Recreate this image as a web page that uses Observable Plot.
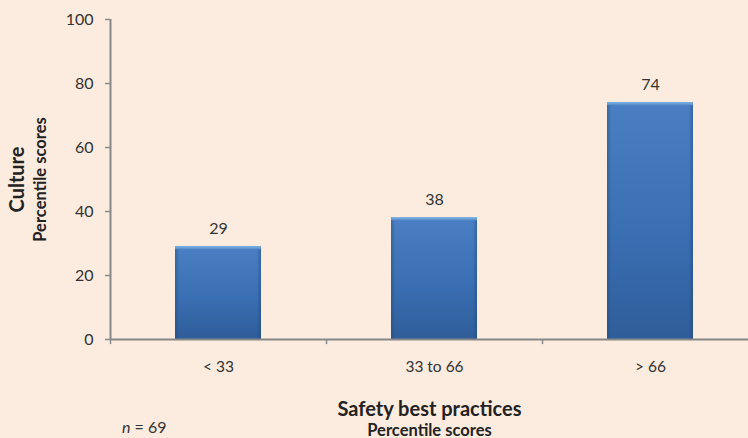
<!DOCTYPE html>
<html>
<head>
<meta charset="utf-8">
<script src="https://cdn.jsdelivr.net/npm/d3@7"></script>
<script src="https://cdn.jsdelivr.net/npm/@observablehq/plot@0.6"></script>
<style>
  html, body { margin: 0; padding: 0; background: #fcebdf; }
  #chart { position: relative; width: 748px; height: 438px; }
  svg { font-family: Lato, "Open Sans", sans-serif; }
</style>
</head>
<body>
<div id="chart"></div>
<script>
const categories = ["< 33", "33 to 66", "> 66"];
const values = [29, 38, 74];
const yTicks = [0, 20, 40, 60, 80, 100];
const yTitle = "Culture";
const ySubtitle = "Percentile scores";
const xTitle = "Safety best practices";
const xSubtitle = "Percentile scores";
const sampleLabel = "69";

const data = categories.map((c, i) => ({cat: c, value: values[i]}));

const W = 748, H = 438;
const mL = 110, mT = 19, mB = 99, mR = 0;
const xRange = [110, 758];
const step = (xRange[1] - xRange[0]) / categories.length;
const axisColor = "#888888";
const textColor = "#333333";

const plot = Plot.plot({
  width: W, height: H,
  marginLeft: mL, marginTop: mT, marginBottom: mB, marginRight: mR,
  style: {background: "#fcebdf", color: textColor, fontSize: "16px", fontFamily: "Lato, 'Open Sans', sans-serif", overflow: "visible"},
  x: {domain: categories, range: xRange, paddingInner: 0.6, paddingOuter: 0.3, align: 0.5},
  y: {domain: [0, 100], ticks: yTicks},
  marks: [
    Plot.barY(data, {x: "cat", y: "value", fill: "url(#barGrad)"}),
    Plot.barY(data, {x: "cat", y: "value", fill: "url(#barSide)"}),
    Plot.barY(data, {x: "cat", y1: "value", y2: "value", insetBottom: -3, fill: "url(#barTop)"}),
    Plot.text(data, {x: "cat", y: "value", text: d => String(d.value), dy: -18, fontSize: 16, fill: textColor}),
    Plot.ruleY([0], {stroke: axisColor, strokeWidth: 2}),
    Plot.ruleX([categories[0]], {x: d => d, y1: 0, y2: 100, dx: -step / 2, stroke: axisColor, strokeWidth: 2}),
    Plot.ruleX(categories, {x: d => d, y1: -1.6, y2: 0, dx: -step / 2, stroke: axisColor, strokeWidth: 1.5}),
    Plot.axisY({ticks: yTicks, tickSize: 5, tickPadding: 12, stroke: axisColor, strokeWidth: 1.5, fontSize: 16, label: null, fill: textColor}),
    Plot.axisX({tickSize: 0, tickPadding: 21, fontSize: 15.5, label: null, fill: textColor}),
    Plot.text([yTitle], {frameAnchor: "left", textAnchor: "middle", lineAnchor: "middle", rotate: -90, dx: -93, fontWeight: "bold", fontSize: 20, fill: "#222"}),
    Plot.text([ySubtitle], {frameAnchor: "left", textAnchor: "middle", lineAnchor: "middle", rotate: -90, dx: -70, fontWeight: "bold", fontSize: 16.5, fill: "#222"}),
    Plot.text([xTitle], {frameAnchor: "bottom", dy: 76, fontWeight: "bold", fontSize: 20, fill: "#222"}),
    Plot.text([xSubtitle], {frameAnchor: "bottom", dy: 96, fontWeight: "bold", fontSize: 16.5, fill: "#222"})
  ]
});

const svg = d3.select(plot);
const defs = svg.insert("defs", ":first-child");
const g1 = defs.append("linearGradient").attr("id", "barGrad").attr("x1", 0).attr("y1", 0).attr("x2", 0).attr("y2", 1);
g1.append("stop").attr("offset", "0%").attr("stop-color", "#4a80c3");
g1.append("stop").attr("offset", "55%").attr("stop-color", "#3a6fb3");
g1.append("stop").attr("offset", "100%").attr("stop-color", "#2f5d99");
const g2 = defs.append("linearGradient").attr("id", "barSide").attr("x1", 0).attr("y1", 0).attr("x2", 1).attr("y2", 0);
g2.append("stop").attr("offset", "0%").attr("stop-color", "#1d4478").attr("stop-opacity", 0.45);
g2.append("stop").attr("offset", "5%").attr("stop-color", "#1d4478").attr("stop-opacity", 0);
g2.append("stop").attr("offset", "95%").attr("stop-color", "#1d4478").attr("stop-opacity", 0);
g2.append("stop").attr("offset", "100%").attr("stop-color", "#1d4478").attr("stop-opacity", 0.45);
const g3 = defs.append("linearGradient").attr("id", "barTop").attr("x1", 0).attr("y1", 0).attr("x2", 0).attr("y2", 1);
g3.append("stop").attr("offset", "0%").attr("stop-color", "#7fb3e6");
g3.append("stop").attr("offset", "100%").attr("stop-color", "#5389c9");

const nText = svg.append("text")
  .attr("x", 122).attr("y", 427)
  .attr("dy", "0.35em")
  .attr("text-anchor", "start")
  .attr("font-size", 16).attr("fill", textColor);
nText.append("tspan").attr("font-style", "italic").text("n");
nText.append("tspan").text(" = " + sampleLabel);

document.getElementById("chart").appendChild(plot);
</script>
</body>
</html>
